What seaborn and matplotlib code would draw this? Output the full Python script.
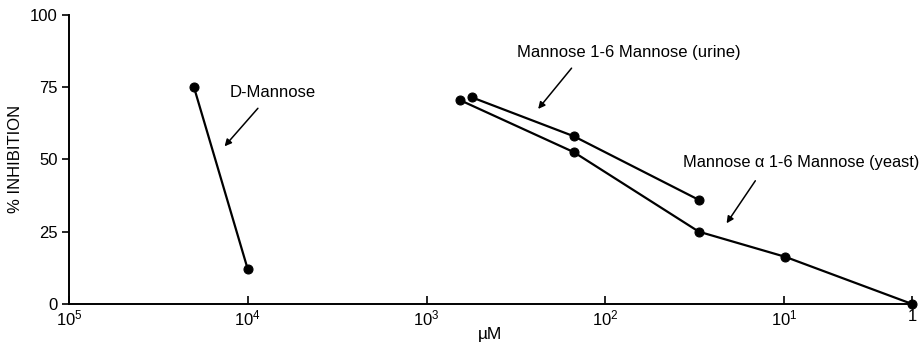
import matplotlib

matplotlib.use("Agg")

import matplotlib.pyplot as plt
import numpy as np
import pandas as pd
import seaborn as sns
from matplotlib.ticker import FixedLocator, FixedFormatter, NullLocator

# values
d_mannose_um = [20000, 10000]
d_mannose_inh = [75, 12]

urine_um = [560, 150, 30]
urine_inh = [71.5, 58, 36]

yeast_um = [650, 150, 30, 9.8, 1]
yeast_inh = [70.5, 52.5, 25, 16.3, 0]

x_ticks = [1e5, 1e4, 1e3, 1e2, 1e1, 1]
x_tick_labels = ["$10^5$", "$10^4$", "$10^3$", "$10^2$", "$10^1$", "1"]
y_ticks = [0, 25, 50, 75, 100]

# the printed axis squeezes the last decade (10 -> 1)
LAST_DECADE = 0.715


def _forward(x):
    lx = np.log10(np.clip(np.asarray(x, dtype=float), 1e-12, None))
    return np.where(lx >= 1, lx, 1 - (1 - lx) * LAST_DECADE)


def _inverse(y):
    y = np.asarray(y, dtype=float)
    return np.where(y >= 1, 10 ** y, 10 ** (1 - (1 - y) / LAST_DECADE))


sns.set_style("ticks", rc={
    "text.color": "black",
    "axes.labelcolor": "black",
    "axes.edgecolor": "black",
    "xtick.color": "black",
    "ytick.color": "black",
})
plt.rcParams["font.family"] = ["Liberation Sans", "DejaVu Sans"]
plt.rcParams["mathtext.default"] = "regular"

frames = []
for name, xs, ys in [
    ("d", d_mannose_um, d_mannose_inh),
    ("urine", urine_um, urine_inh),
    ("yeast", yeast_um, yeast_inh),
]:
    frames.append(pd.DataFrame({"series": name, "um": xs, "inhibition": ys}))
df = pd.concat(frames, ignore_index=True)

fig = plt.figure(figsize=(9.22, 3.45), dpi=100)
ax = fig.add_axes([0.0748, 0.119, 0.9143, 0.838])
ax.set_xscale("function", functions=(_forward, _inverse))

for name, group in df.groupby("series", sort=False):
    sns.lineplot(
        data=group, x="um", y="inhibition", ax=ax, color="black",
        marker="o", markersize=6.5, markeredgecolor="black",
        linewidth=1.6, sort=False, legend=False, clip_on=False,
    )

ax.set_xlim(1e5, 1)
ax.set_ylim(0, 100)
ax.xaxis.set_major_locator(FixedLocator(x_ticks))
ax.xaxis.set_major_formatter(FixedFormatter(x_tick_labels))
ax.xaxis.set_minor_locator(NullLocator())
ax.set_yticks(y_ticks)
ax.tick_params(axis="x", direction="in", length=6, width=1.2, labelsize=12, pad=3.5)
ax.tick_params(axis="y", direction="out", length=5, width=1.2, labelsize=12, pad=3)
for side in ["top", "right"]:
    ax.spines[side].set_visible(False)
for side in ["left", "bottom"]:
    ax.spines[side].set_linewidth(1.4)

ax.set_xlabel("µM", fontsize=12.5, labelpad=-1)
ax.set_ylabel("% INHIBITION", fontsize=12, labelpad=5)

arrow = dict(arrowstyle="-|>", color="black", lw=1.1, mutation_scale=10)
ax.annotate("", xy=(13800, 53.8), xytext=(8570, 68.4), arrowprops=arrow)
ax.text(12600, 73, "D-Mannose", fontsize=12, va="center", ha="left")

ax.annotate("", xy=(243, 66.7), xytext=(151, 82.3), arrowprops=arrow)
ax.text(310, 86.8, "Mannose 1-6 Mannose (urine)", fontsize=12, va="center", ha="left")

ax.annotate("", xy=(21.4, 27.1), xytext=(14.2, 43.4), arrowprops=arrow)
ax.text(37, 49, "Mannose α 1-6 Mannose (yeast)", fontsize=11.8, va="center", ha="left")

fig.savefig("out.png", dpi=100)
